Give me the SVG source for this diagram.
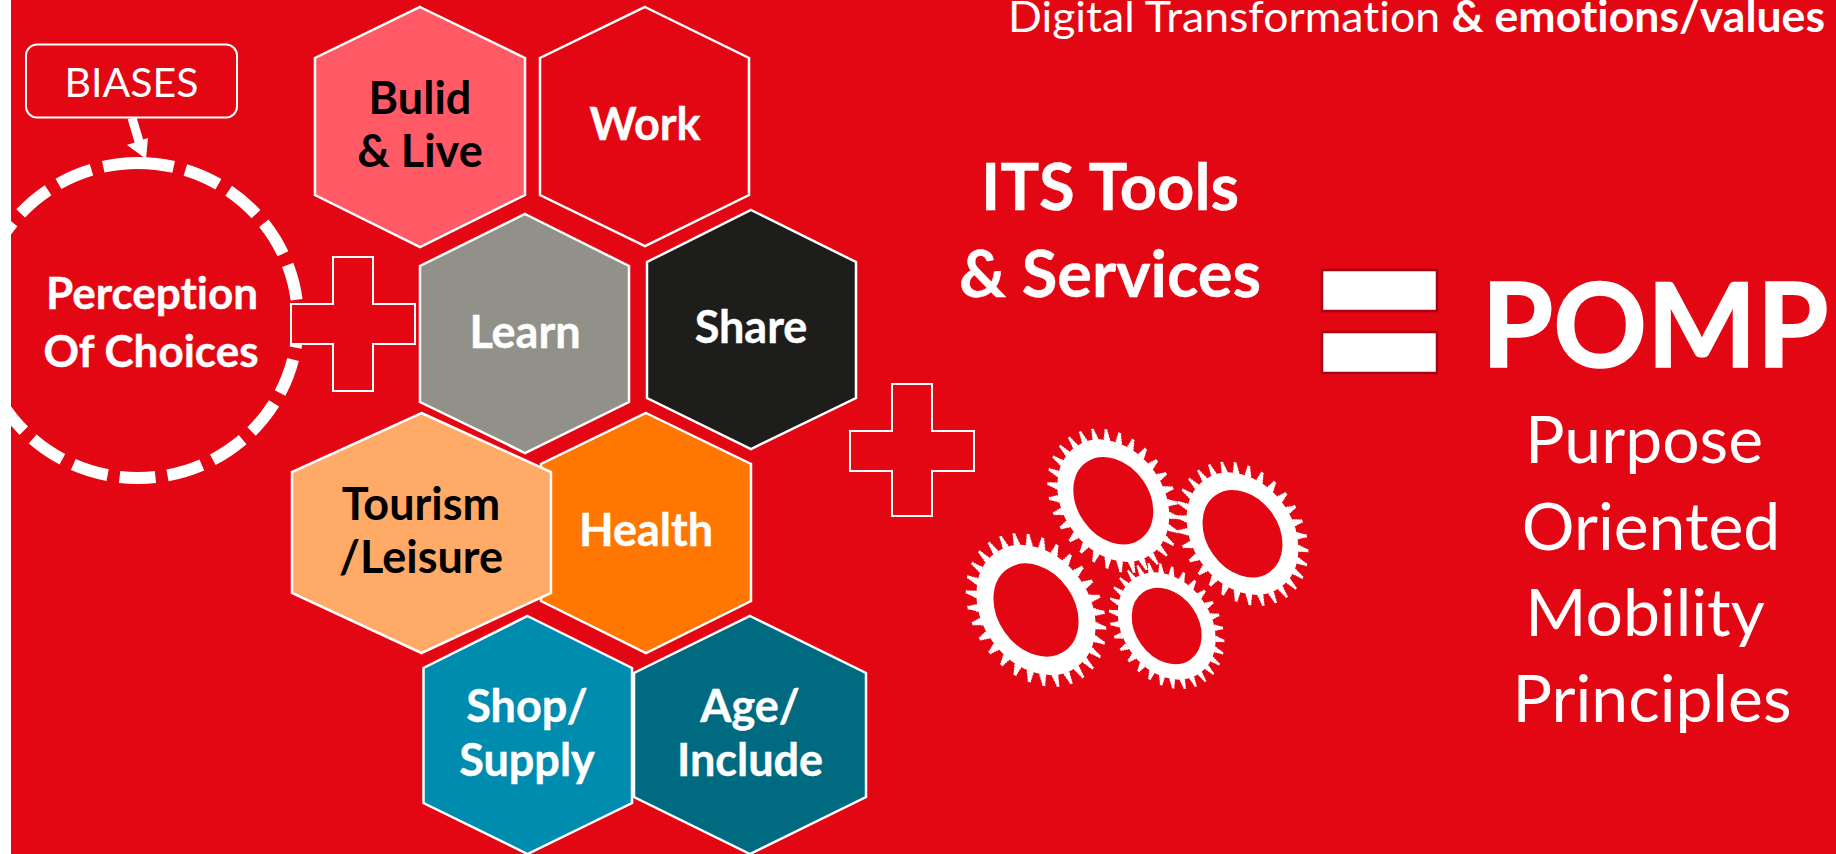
<svg xmlns="http://www.w3.org/2000/svg" xmlns:xlink="http://www.w3.org/1999/xlink" width="1836" height="854" viewBox="0 0 1836 854">
<style>
text{font-family:"Lato","Open Sans","Liberation Sans",sans-serif;text-anchor:middle;font-variant-ligatures:none}
.b{font-weight:700}
.hl{font-weight:700;font-size:45px}
.w{fill:#fff}
.k{fill:#000}
.s{stroke:#fff;stroke-width:.4}
.hex{stroke:#fff;stroke-width:2.5;stroke-linejoin:miter}
.plus{fill:#E30613;stroke:#fff;stroke-width:2}
.eq{fill:#fff;stroke:#A80010;stroke-width:2.5}
.big{font-size:66px;fill:#fff}
.t{fill:none;stroke:#fff}
</style>
<defs>
<g id="gear">
<circle class="t" r="48" stroke-width="16"/>
<circle class="t" r="57" stroke-width="3" pathLength="300" stroke-dasharray="5.200 4.800" stroke-dashoffset="2.600"/>
<circle class="t" r="59.500" stroke-width="3" pathLength="300" stroke-dasharray="4 6" stroke-dashoffset="2"/>
<circle class="t" r="62" stroke-width="3" pathLength="300" stroke-dasharray="3 7" stroke-dashoffset="1.500"/>
<circle class="t" r="64.500" stroke-width="3" pathLength="300" stroke-dasharray="2.200 7.800" stroke-dashoffset="1.100"/>
</g>
</defs>
<rect width="1836" height="854" fill="#E30613"/>
<g id="perception">
<path d="M138 163A160 157.500 0 1 1 138 478A160 157.500 0 1 1 138 163Z" fill="none" stroke="#fff" stroke-width="12" stroke-dasharray="36 12.100"/>
<text class="b w s" font-size="44" x="152" y="309">Perception</text>
<text class="b w s" font-size="44" x="151" y="367">Of Choices</text>
</g>
<rect x="0" y="0" width="11" height="854" fill="#fff"/>
<g id="biases">
<rect x="26" y="44.500" width="211" height="73" rx="11" fill="#E30613" stroke="#fff" stroke-width="2"/>
<text class="w" font-size="41" x="131.500" y="97">BIASES</text>
</g>
<g id="connectors">
<line x1="132" y1="118" x2="141" y2="148" stroke="#fff" stroke-width="9"/>
<polygon points="127,145 148,138 146,159" fill="#fff"/>
</g>
<g id="plus1"><polygon class="plus" points="333,257 373,257 373,304 415,304 415,344 373,344 373,391 333,391 333,344 291,344 291,304 333,304"/></g>
<g id="hex-build"><polygon class="hex" fill="#FF5A66" points="420,7 525,58 525,195 420,247 315,195 315,58"/>
<text class="hl k" x="420" y="114">Bulid</text><text class="hl k" x="420" y="167">&amp; Live</text></g>
<g id="hex-work"><polygon class="hex" fill="#E30613" points="645,7 749,58 749,195 645,246 540,195 540,58"/>
<text class="hl w s" x="645" y="140">Work</text></g>
<g id="hex-learn"><polygon class="hex" fill="#91918A" points="525,214 629,266 629,402 525,453 420,402 420,266"/>
<text class="hl w s" x="525" y="348">Learn</text></g>
<g id="hex-share"><polygon class="hex" fill="#1D1D1B" points="751,210 856,262 856,398 751,449 647,398 647,262"/>
<text class="hl w s" x="751" y="343">Share</text></g>
<g id="hex-health"><polygon class="hex" fill="#FF7700" points="646,413 751,464 751,601 646,653 541,601 541,464"/>
<text class="hl w s" x="646" y="546">Health</text></g>
<g id="hex-tourism"><polygon class="hex" fill="#FFAA66" points="421.500,413 551,472 551,593 421.500,653 292,593 292,472"/>
<text class="hl k" x="421" y="520">Tourism</text><text class="hl k" x="421" y="573">/Leisure</text></g>
<g id="hex-age"><polygon class="hex" fill="#006A80" points="750,616 866,673 866,797 750,854 634,797 634,673"/>
<text class="hl w s" x="750" y="722">Age/</text><text class="hl w s" x="750" y="776">Include</text></g>
<g id="hex-shop"><polygon class="hex" fill="#008CAF" points="527.500,616 632,668 632,803 527.500,854 423.500,803 423.500,668"/>
<text class="hl w s" x="527" y="722">Shop/</text><text class="hl w s" x="527" y="776">Supply</text></g>
<g id="plus2"><polygon class="plus" points="892,384 932,384 932,431 974,431 974,471 932,471 932,516 892,516 892,471 850,471 850,431 892,431"/></g>
<g id="its"><text class="b w s" font-size="65" x="1110" y="210">ITS Tools</text><text class="b w s" font-size="65" x="1110" y="297">&amp; Services</text></g>
<g id="gears">
<use xlink:href="#gear" href="#gear" transform="translate(1113.300 500.700) rotate(55) scale(1.175 .9)"/>
<use xlink:href="#gear" href="#gear" transform="translate(1242.500 533.700) rotate(55) scale(1.175 .9)"/>
<use xlink:href="#gear" href="#gear" transform="translate(1036 610) scale(1.065) rotate(55) scale(1.175 .9)"/>
<use xlink:href="#gear" href="#gear" transform="translate(1166.700 626) scale(.875) rotate(55) scale(1.175 .9)"/>
</g>
<g id="equals"><rect class="eq" x="1322" y="270" width="115" height="41"/><rect class="eq" x="1322" y="332" width="115" height="41"/></g>
<g id="pomp">
<text class="b w" style="stroke:#fff;stroke-width:1.500" font-size="116" x="1655" y="367">POMP</text>
<text class="big" x="1644" y="463">Purpose</text>
<text class="big" x="1651" y="550">Oriented</text>
<text class="big" x="1645" y="636">Mobility</text>
<text class="big" x="1652" y="722">Principles</text>
</g>
<g id="title"><text class="w" font-size="43" x="1416.500" y="32" textLength="817" lengthAdjust="spacingAndGlyphs">Digital Transformation <tspan class="b">&amp; emotions/values</tspan></text></g>
</svg>
